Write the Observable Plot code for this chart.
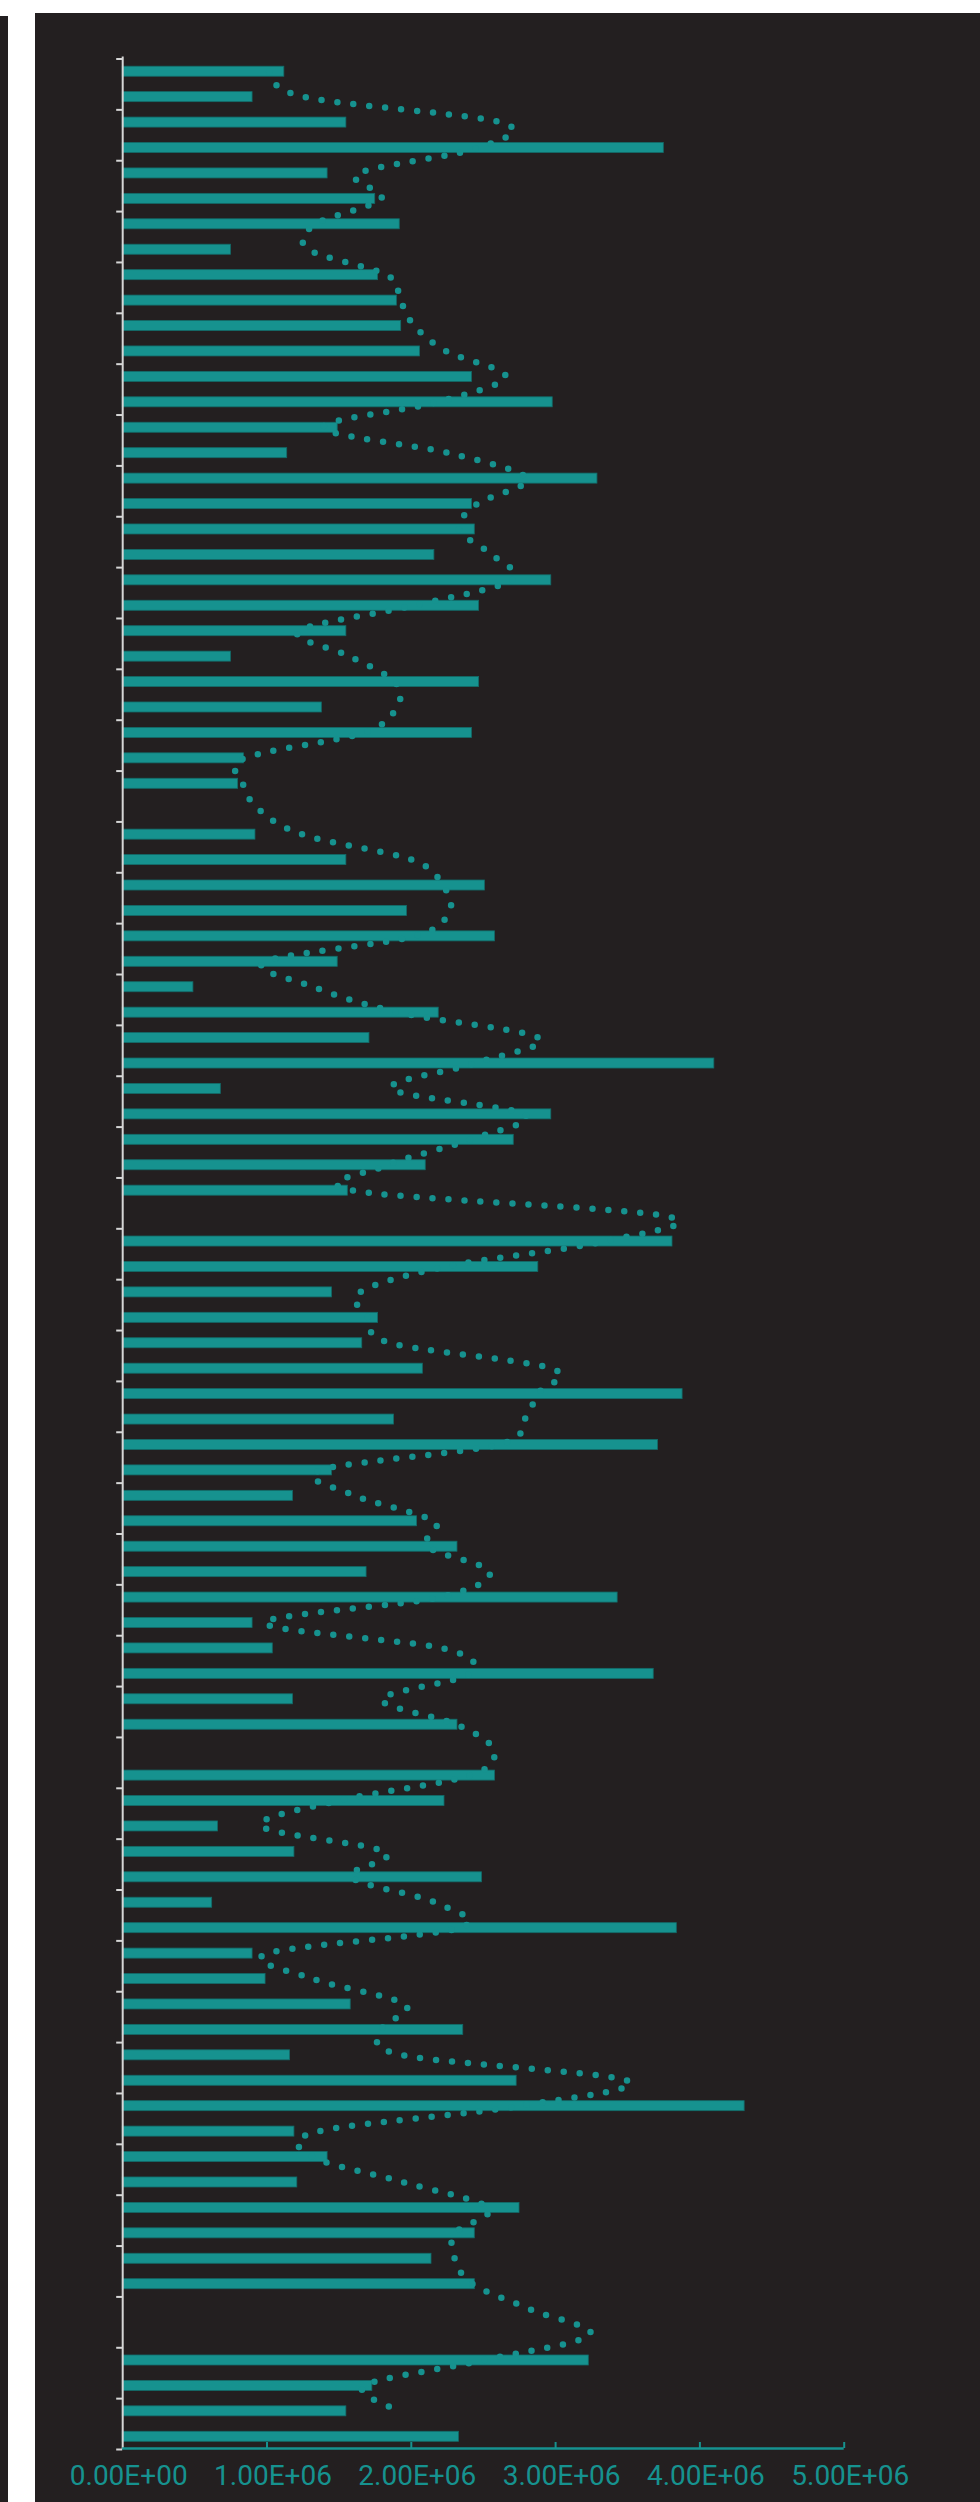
<!DOCTYPE html>
<html>
<head>
<meta charset="utf-8">
<script src="https://cdn.jsdelivr.net/npm/d3@7"></script>
<script src="https://cdn.jsdelivr.net/npm/@observablehq/plot@0.6"></script>
<style>
  html, body { margin: 0; padding: 0; background: #ffffff; }
  body { width: 980px; height: 2502px; position: relative; overflow: hidden; }
  #strip { position: absolute; left: 0; top: 16px; width: 8px; height: 2486px; background: #231f20; }
  #chart { position: absolute; left: 35px; top: 13px; width: 945px; height: 2489px; background: #231f20; }
  #chart svg { display: block; }
</style>
</head>
<body>
<div id="strip"></div>
<div id="chart"></div>
<script>
// ---- data (values in millions) ----
const categories = d3.range(1, 95); // 94 categories, top to bottom

const barValues = [
  1.12, 0.90, 1.55, 3.75, 1.42, 1.75, 1.92, 0.75, 1.77, 1.90,
  1.93, 2.06, 2.42, 2.98, 1.49, 1.14, 3.29, 2.42, 2.44, 2.16,
  2.97, 2.47, 1.55, 0.75, 2.47, 1.38, 2.42, 0.84, 0.80, null,
  0.92, 1.55, 2.51, 1.97, 2.58, 1.49, 0.49, 2.19, 1.71, 4.10,
  0.68, 2.97, 2.71, 2.10, 1.56, null, 3.81, 2.88, 1.45, 1.77,
  1.66, 2.08, 3.88, 1.88, 3.71, 1.45, 1.18, 2.04, 2.32, 1.69,
  3.43, 0.90, 1.04, 3.68, 1.18, 2.32, null, 2.58, 2.23, 0.66,
  1.19, 2.49, 0.62, 3.84, 0.90, 0.99, 1.58, 2.36, 1.16, 2.73,
  4.31, 1.19, 1.42, 1.21, 2.75, 2.44, 2.14, 2.44, null, null,
  3.23, 1.73, 1.55, 2.33
];

const lineValues = [
  1.015, 1.263, 2.626, 2.462, 1.633, 1.790, 1.334, 1.290, 1.832, 1.924,
  2.022, 2.244, 2.654, 2.172, 1.390, 2.265, 2.800, 2.456, 2.330, 2.561,
  2.696, 2.009, 1.219, 1.579, 1.886, 1.898, 1.665, 0.842, 0.833, 0.942,
  1.249, 2.009, 2.219, 2.263, 2.018, 0.985, 1.327, 1.915, 2.886, 2.433,
  1.863, 2.784, 2.404, 1.833, 1.599, 3.763, 3.333, 2.228, 1.643, 1.702,
  1.863, 2.977, 2.874, 2.784, 2.594, 1.363, 1.614, 2.155, 2.111, 2.544,
  2.184, 0.985, 2.219, 2.404, 1.795, 2.319, 2.570, 2.404, 1.482, 0.962,
  1.819, 1.585, 2.170, 2.330, 1.000, 1.322, 1.956, 1.795, 1.944, 3.500,
  2.740, 1.351, 1.322, 1.950, 2.535, 2.301, 2.301, 2.427, 2.830, 3.237,
  2.491, 1.673, 1.936
];

const xTickValues = [0, 1, 2, 3, 4, 5];           // millions
const yTickBoundaries = d3.range(0.5, 95, 2);     // every other category boundary

// ---- layout / style ----
const W = 945, H = 2489;
const mL = 87.2, mR = 136.3, mT = 45.5, mB = 53;
const teal = "#16928f";
const axisGrey = "#d6d6d6";
const pxPerX = (W - mL - mR) / 5;
const pxPerY = (H - mT - mB) / 94;

const bars = categories
  .map((c, i) => ({cat: c, value: barValues[i]}))
  .filter(d => d.value != null);
const line = lineValues.map((v, i) => ({cat: categories[i], value: v}));

function sci(m) {
  const [mant, e] = (m * 1e6).toExponential(2).split("e");
  const sign = e[0];
  return mant + "E" + sign + e.slice(1).padStart(2, "0");
}

const chart = Plot.plot({
  width: W,
  height: H,
  marginLeft: mL,
  marginRight: mR,
  marginTop: mT,
  marginBottom: mB,
  style: {background: "#231f20", overflow: "visible"},
  x: {domain: [0, 5], axis: null},
  y: {domain: [0.5, 94.5], reverse: true, axis: null},
  marks: [
    // bars
    Plot.rectX(bars, {
      x1: 0, x2: "value",
      y1: d => d.cat - 0.5, y2: d => d.cat + 0.5,
      insetTop: 7.7, insetBottom: 7.7,
      fill: teal, stroke: "#136b69", strokeWidth: 0.8
    }),
    // dotted smoothed line
    Plot.line(line, {
      x: "value", y: "cat",
      curve: "cardinal",
      stroke: teal, strokeWidth: 6.5,
      strokeDasharray: "0,16", strokeLinecap: "round"
    }),
    // y axis line and ticks
    Plot.ruleX([0], {y1: 0.5, y2: 94.5, stroke: axisGrey, strokeWidth: 2, insetTop: -2}),
    Plot.ruleY(yTickBoundaries, {x1: 0, x2: -6 / pxPerX, stroke: axisGrey, strokeWidth: 2}),
    // x axis line, ticks, labels
    Plot.ruleY([94.5], {x1: 0, x2: 5, stroke: teal, strokeWidth: 2.3, dy: -1}),
    Plot.ruleX(xTickValues.slice(1), {x: d => d, y1: 94.5, y2: 94.5 - 6 / pxPerY, stroke: teal, strokeWidth: 2, dy: -1}),
    Plot.text(xTickValues, {
      x: d => d, y: 94.5, text: d => sci(d),
      lineAnchor: "bottom", dy: 35, dx: 6,
      fill: teal, fontSize: 28, fontFamily: "Roboto"
    })
  ]
});

document.getElementById("chart").appendChild(chart);
</script>
</body>
</html>
